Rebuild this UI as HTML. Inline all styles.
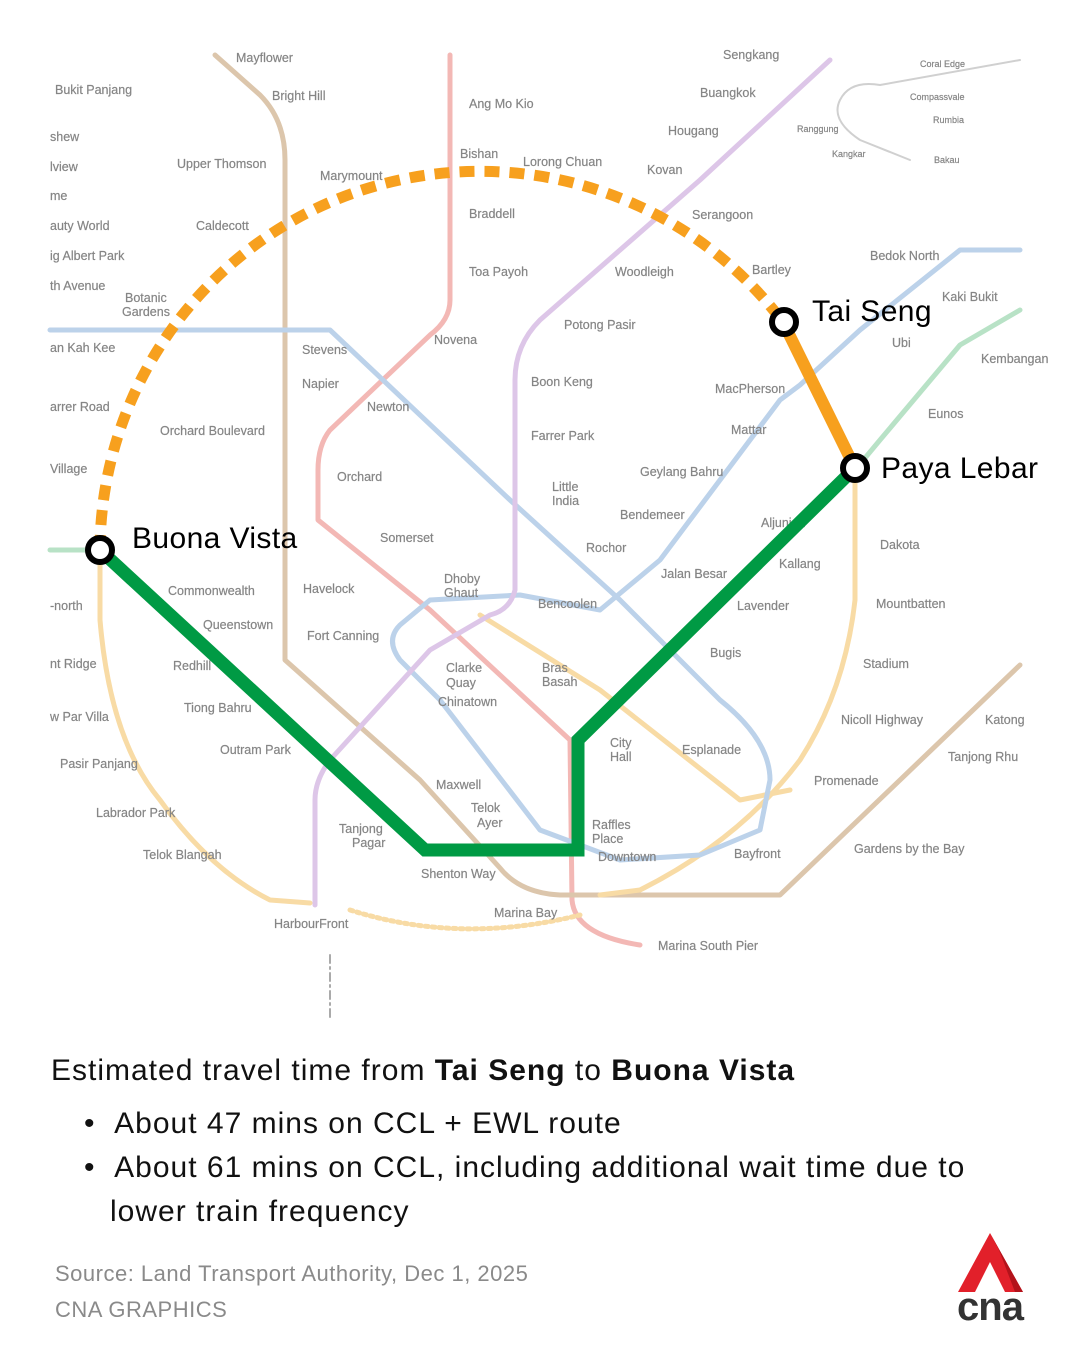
<!DOCTYPE html>
<html><head><meta charset="utf-8">
<style>
html,body{margin:0;padding:0;background:#fff;}
body{width:1080px;height:1350px;overflow:hidden;position:relative;font-family:"Liberation Sans",sans-serif;}
svg{position:absolute;left:0;top:0;}
.l{font-family:"Liberation Sans",sans-serif;font-size:12.5px;fill:#858585;stroke:#858585;stroke-width:0.2;}
.big{font-family:"Liberation Sans",sans-serif;font-size:30px;fill:#000;letter-spacing:0.4px;}
.t{position:absolute;left:0;font-size:30px;color:#111;white-space:nowrap;letter-spacing:1px;}
.s{font-size:22px;color:#8a8a8a;letter-spacing:0.5px;}
</style></head><body>
<svg width="1080" height="1350" viewBox="0 0 1080 1350">
<g fill="none" stroke-linecap="round" stroke-linejoin="round" stroke-width="5">
<path d="M450,55 L450,300 Q450,320 430,335 L330,430 Q318,445 318,470 L318,520 L430,610 L570,740 L572,900 Q575,935 640,945" stroke="#f3b8b5"/>
<path d="M215,55 L260,95 Q285,120 285,160 L285,660 L420,780 L500,868 Q520,893 560,895 L780,895 L1020,665" stroke="#dcc6ac"/>
<path d="M100,550 L100,620 Q110,740 160,800 Q210,870 270,900 L310,903" stroke="#f8dba5"/>
<path d="M350,910 Q460,945 580,915" stroke="#f8dba5" stroke-dasharray="3 4"/>
<path d="M855,470 L855,600 Q845,690 800,760 Q740,840 640,890 L600,895" stroke="#f8dba5"/>
<path d="M480,615 L600,690 L740,800 L790,790" stroke="#f8dba5"/>
<path d="M50,330 L330,330 L510,500 L620,600 L720,700 Q770,740 770,780 L760,830 L700,855 L620,860 L540,830 L440,700 L400,660 Q385,640 400,625 L430,600 L520,595 L600,610 L660,560 L780,400 L800,385 L860,330 L960,250 L1020,250" stroke="#bcd2ea"/>
<path d="M830,60 L700,180 L540,320 Q515,345 515,380 L515,590 Q510,610 490,615 L430,650 L330,760 Q315,780 315,800 L315,905" stroke="#ddc6e8"/>
<path d="M50,550 L100,550" stroke="#b8e2c6"/>
<path d="M1020,310 L960,345 L880,440 L855,470" stroke="#b8e2c6"/>
<path d="M840,100 Q850,80 880,85 L1020,60 M840,100 Q830,120 860,140 L910,160" stroke="#d0d0d0" stroke-width="2"/>
<path d="M330,955 L330,1020" stroke="#aaa" stroke-width="2" stroke-dasharray="8 4 2 4"/>
</g>
<g class="l">
<text x="236" y="62">Mayflower</text><text x="272" y="100">Bright Hill</text><text x="55" y="94">Bukit Panjang</text>
<text x="469" y="108">Ang Mo Kio</text><text x="700" y="97">Buangkok</text><text x="723" y="59">Sengkang</text>
<text x="920" y="67" style="font-size:9px">Coral Edge</text><text x="910" y="100" style="font-size:9px">Compassvale</text>
<text x="933" y="123" style="font-size:9px">Rumbia</text><text x="797" y="132" style="font-size:9px">Ranggung</text>
<text x="832" y="157" style="font-size:9px">Kangkar</text><text x="934" y="163" style="font-size:9px">Bakau</text>
<text x="668" y="135">Hougang</text><text x="460" y="158">Bishan</text><text x="523" y="166">Lorong Chuan</text>
<text x="177" y="168">Upper Thomson</text><text x="320" y="180">Marymount</text><text x="647" y="174">Kovan</text>
<text x="469" y="218">Braddell</text><text x="692" y="219">Serangoon</text><text x="196" y="230">Caldecott</text>
<text x="870" y="260">Bedok North</text><text x="469" y="276">Toa Payoh</text><text x="615" y="276">Woodleigh</text>
<text x="752" y="274">Bartley</text><text x="125" y="302">Botanic</text><text x="122" y="316">Gardens</text>
<text x="942" y="301">Kaki Bukit</text><text x="564" y="329">Potong Pasir</text><text x="302" y="354">Stevens</text>
<text x="434" y="344">Novena</text><text x="892" y="347">Ubi</text><text x="981" y="363">Kembangan</text>
<text x="302" y="388">Napier</text><text x="531" y="386">Boon Keng</text><text x="715" y="393">MacPherson</text>
<text x="367" y="411">Newton</text><text x="928" y="418">Eunos</text><text x="160" y="435">Orchard Boulevard</text>
<text x="531" y="440">Farrer Park</text><text x="731" y="434">Mattar</text><text x="640" y="476">Geylang Bahru</text>
<text x="337" y="481">Orchard</text><text x="552" y="491">Little</text><text x="552" y="505">India</text>
<text x="620" y="519">Bendemeer</text><text x="761" y="527">Aljunied</text><text x="380" y="542">Somerset</text>
<text x="880" y="549">Dakota</text><text x="586" y="552">Rochor</text><text x="444" y="583">Dhoby</text><text x="444" y="597">Ghaut</text>
<text x="168" y="595">Commonwealth</text><text x="303" y="593">Havelock</text><text x="661" y="578">Jalan Besar</text>
<text x="779" y="568">Kallang</text><text x="538" y="608">Bencoolen</text><text x="737" y="610">Lavender</text>
<text x="876" y="608">Mountbatten</text><text x="203" y="629">Queenstown</text><text x="307" y="640">Fort Canning</text>
<text x="173" y="670">Redhill</text><text x="446" y="672">Clarke</text><text x="446" y="687">Quay</text>
<text x="542" y="672">Bras</text><text x="542" y="686">Basah</text><text x="710" y="657">Bugis</text>
<text x="863" y="668">Stadium</text><text x="438" y="706">Chinatown</text><text x="184" y="712">Tiong Bahru</text>
<text x="841" y="724">Nicoll Highway</text><text x="985" y="724">Katong</text><text x="610" y="747">City</text><text x="610" y="761">Hall</text>
<text x="220" y="754">Outram Park</text><text x="682" y="754">Esplanade</text><text x="948" y="761">Tanjong Rhu</text>
<text x="60" y="768">Pasir Panjang</text><text x="814" y="785">Promenade</text><text x="436" y="789">Maxwell</text>
<text x="471" y="812">Telok</text><text x="477" y="827">Ayer</text><text x="96" y="817">Labrador Park</text>
<text x="592" y="829">Raffles</text><text x="592" y="843">Place</text><text x="339" y="833">Tanjong</text><text x="352" y="847">Pagar</text>
<text x="734" y="858">Bayfront</text><text x="854" y="853">Gardens by the Bay</text><text x="598" y="861">Downtown</text>
<text x="143" y="859">Telok Blangah</text><text x="421" y="878">Shenton Way</text><text x="494" y="917">Marina Bay</text>
<text x="274" y="928">HarbourFront</text><text x="658" y="950">Marina South Pier</text>
<text x="50" y="141">shew</text><text x="50" y="171">lview</text><text x="50" y="200">me</text><text x="50" y="230">auty World</text>
<text x="50" y="260">ig Albert Park</text><text x="50" y="290">th Avenue</text><text x="50" y="352">an Kah Kee</text>
<text x="50" y="411">arrer Road</text><text x="50" y="473">Village</text><text x="50" y="610">-north</text>
<text x="50" y="668">nt Ridge</text><text x="50" y="721">w Par Villa</text>
</g>
<path d="M100,550 A380,380 0 0 1 783,322" fill="none" stroke="#f7a01e" stroke-width="11" stroke-dasharray="15 10"/>
<path d="M783,322 L855,468" fill="none" stroke="#f7a01e" stroke-width="12" stroke-linecap="round"/>
<path d="M100,550 L425,850 L578,850 L578,740 L855,468" fill="none" stroke="#009a44" stroke-width="13" stroke-linejoin="miter"/>
<g fill="#fff" stroke="#000" stroke-width="6">
<circle cx="100" cy="550" r="12"/><circle cx="784" cy="322" r="12"/><circle cx="855" cy="468" r="12"/>
</g>
<text x="132" y="548" class="big">Buona Vista</text>
<text x="812" y="321" class="big">Tai Seng</text>
<text x="881" y="478" class="big">Paya Lebar</text>
<polygon points="990,1233 958,1292 975,1292 990,1262 1005,1292 1023,1292" fill="#e2202a"/>
<polygon points="990,1233 999,1250 1015,1292 1023,1292" fill="#b3131b"/>
<text x="990" y="1320" text-anchor="middle" style="font-family:'Liberation Sans',sans-serif;font-size:40px;font-weight:bold;fill:#333;letter-spacing:-1px">cna</text>
</svg>
<div class="t" style="left:51px;top:1054px;">Estimated travel time from <b>Tai Seng</b> to <b>Buona Vista</b></div>
<div class="t" style="left:84px;top:1107px;">•&nbsp;&nbsp;About 47 mins on CCL + EWL route</div>
<div class="t" style="left:84px;top:1151px;">•&nbsp;&nbsp;About 61 mins on CCL, including additional wait time due to</div>
<div class="t" style="left:110px;top:1195px;">lower train frequency</div>
<div class="t s" style="left:55px;top:1261px;">Source: Land Transport Authority, Dec 1, 2025</div>
<div class="t s" style="left:55px;top:1297px;">CNA GRAPHICS</div>
</body></html>
